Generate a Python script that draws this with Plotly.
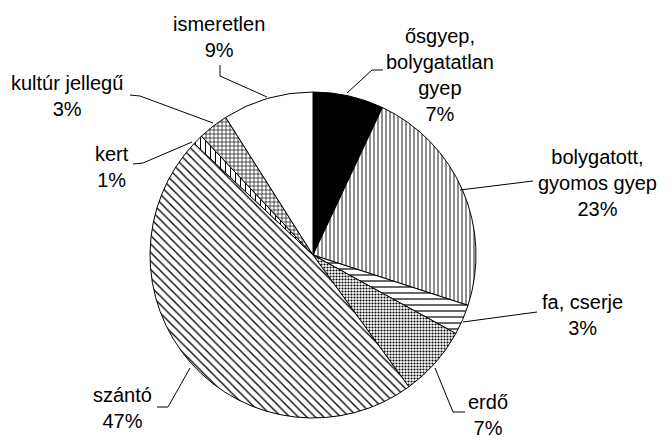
import plotly.graph_objects as go

# land use categories, clockwise from 12 o'clock
names = ["ősgyep,<br>bolygatatlan<br>gyep", "bolygatott,<br>gyomos gyep", "fa, cserje",
         "erdő", "szántó", "kert", "kultúr jellegű", "ismeretlen"]
values = [7, 23, 3, 7, 47, 1, 3, 9]

# fill style per slice
fills = ["black", "white", "white", "white", "white", "white", "white", "white"]
patterns = ["", "|", "-", ".", "\\", "|", "+", ""]

W, H = 669, 444
OFF = 8  # page body margin shifts the plot


def px(x, y):
    # window pixel position -> paper coords
    return (x - OFF) / W, 1 - (y - OFF) / H


# label centres and leader lines in pixels
label_pos = [(440, 75), (597, 183), (582, 315), (488, 415),
             (123, 408), (112, 167), (67, 96), (219, 37)]
leaders = [
    [(383, 70), (372, 70), (347, 93)],
    [(533, 181), (460, 190)],
    [(537, 312), (463, 322)],
    [(465, 412), (453, 412), (435, 368)],
    [(157, 407), (168, 407), (190, 368)],
    [(133, 164), (143, 163), (192, 142)],
    [(130, 95), (140, 96), (213, 123)],
    [(220, 65), (220, 76), (267, 97)],
]

cx, cy, r = 313, 255, 163
x0, y1 = px(cx - r, cy - r)
x1, y0 = px(cx + r, cy + r)

fig = go.Figure(go.Pie(
    labels=names,
    values=values,
    sort=False,
    direction="clockwise",
    rotation=0,
    textinfo="none",
    hoverinfo="skip",
    showlegend=False,
    marker=dict(
        colors=fills,
        line=dict(color="black", width=1),
        pattern=dict(shape=patterns, fgcolor="black", bgcolor=fills,
                     size=[4, 4, 6, 3, 6, 5, 4, 4],
                     solidity=[0.3, 0.22, 0.2, 0.4, 0.22, 0.2, 0.3, 0.3]),
    ),
    domain=dict(x=[x0, x1], y=[y0, y1]),
))

annotations = []
for name, v, (x, y) in zip(names, values, label_pos):
    ax, ay = px(x, y)
    annotations.append(dict(
        x=ax, y=ay, xref="paper", yref="paper",
        text=f"{name}<br>{v}%", showarrow=False,
        xanchor="center", yanchor="middle",
        font=dict(family="Liberation Sans, Arial", size=20, color="black"),
    ))

shapes = []
for pts in leaders:
    p = [px(x, y) for x, y in pts]
    path = "M " + " L ".join(f"{a},{b}" for a, b in p)
    shapes.append(dict(type="path", path=path, xref="paper", yref="paper",
                       line=dict(color="black", width=1)))

fig.update_layout(
    width=W, height=H,
    margin=dict(l=0, r=0, t=0, b=0),
    paper_bgcolor="white",
    plot_bgcolor="white",
    annotations=annotations,
    shapes=shapes,
)

fig.write_html("out.html")
